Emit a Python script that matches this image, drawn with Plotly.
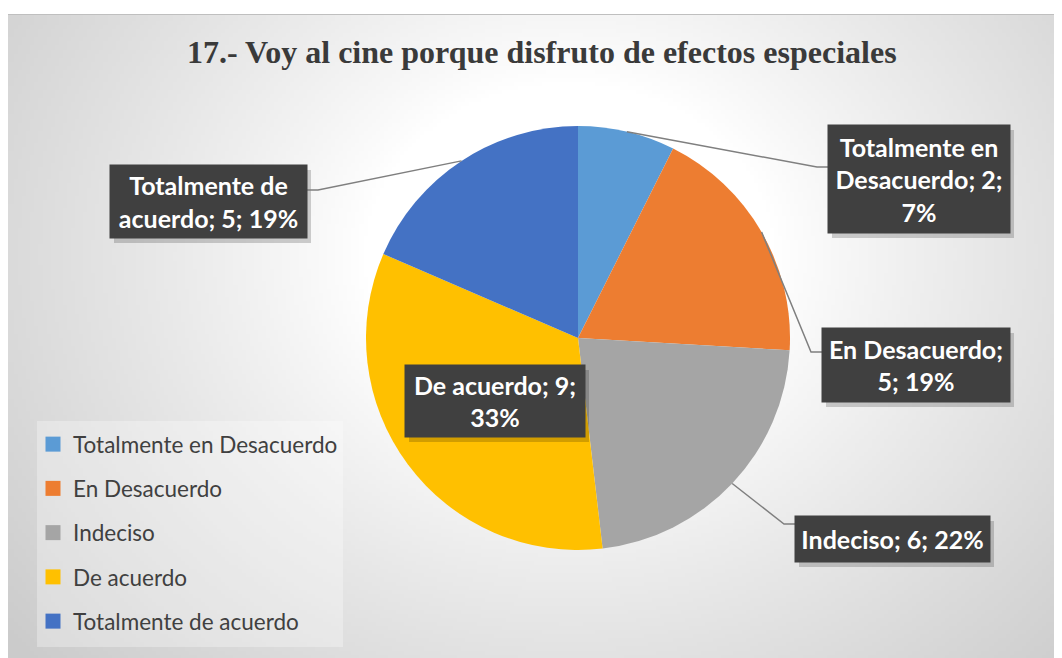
import base64, struct, zlib, textwrap, math
import numpy as np
import plotly.graph_objects as go

# ---------------- data ----------------
categories = ["Totalmente en Desacuerdo", "En Desacuerdo", "Indeciso", "De acuerdo", "Totalmente de acuerdo"]
values = [2, 5, 6, 9, 5]
colors = ["#5B9BD5", "#ED7D31", "#A5A5A5", "#FFC000", "#4472C4"]
title_text = "17.- Voy al cine porque disfruto de efectos especiales"

# ---------------- layout constants (page pixels) ----------------
W, H = 1062, 658
OFF = 8  # default page margin of the html body
CX, CY, R = 578, 338, 212
# label boxes: centre x, centre y, width, height, leader y, side
label_boxes = [
    (919, 179, 182, 108, 167, "right"),
    (916, 365, 188, 74, 352, "right"),
    (892.5, 539, 195, 46, 524, "right"),
    (495, 401, 180, 72, None, "inside"),
    (208.5, 201.5, 197, 73, 190, "left"),
]

def px(x):
    return (x - OFF) / W

def py(y):
    return 1 - (y - OFF) / H

# ---------------- background gradient as PNG ----------------
gw, gh = 264, 162
xs = np.linspace(8, W, gw)
ys = np.linspace(15, H, gh)
XX, YY = np.meshgrid(xs, ys)
d = np.sqrt(((XX - 560) / 640) ** 2 + ((YY - 250) / 540) ** 2)
t = np.clip((d - 0.32) / 0.8, 0, 1)
img = (255 - 52 * t ** 0.9).astype(np.uint8)

def make_png(a):
    h, w = a.shape
    raw = b"".join(b"\x00" + a[i].tobytes() for i in range(h))
    def chunk(tag, data):
        c = struct.pack(">I", len(data)) + tag + data
        return c + struct.pack(">I", zlib.crc32(tag + data) & 0xffffffff)
    return (b"\x89PNG\r\n\x1a\n" + chunk(b"IHDR", struct.pack(">IIBBBBB", w, h, 8, 0, 0, 0, 0))
            + chunk(b"IDAT", zlib.compress(raw, 9)) + chunk(b"IEND", b""))

bg_uri = "data:image/png;base64," + base64.b64encode(make_png(img)).decode()

fig = go.Figure()
fig.add_trace(go.Pie(
    labels=categories, values=values, sort=False, direction="clockwise", rotation=0,
    marker=dict(colors=colors, line=dict(width=0)),
    textinfo="none", showlegend=False, hoverinfo="label+value+percent",
    domain=dict(x=[px(CX - R), px(CX + R)], y=[py(CY + R), py(CY - R)]),
))

# legend via placeholder traces so spacing can be controlled
for i, (cat, col) in enumerate(zip(categories, colors)):
    fig.add_trace(go.Scatter(x=[None], y=[None], mode="markers", name=cat,
                             marker=dict(symbol="square", size=15, color=col),
                             legendgroup=f"g{i}", showlegend=True, hoverinfo="skip"))

shapes = []
annotations = []
total = sum(values)
cum = 0
for i, (cat, v) in enumerate(zip(categories, values)):
    mid = (cum + v / 2) / total * 2 * math.pi
    cum += v
    pct = round(v / total * 100)
    txt = "<br>".join(textwrap.wrap(f"{cat}; {v}; {pct}%", 16))
    bx, by, bw, bh, ly, side = label_boxes[i]
    # shadow
    shapes.append(dict(type="rect", xref="paper", yref="paper",
                       x0=px(bx - bw / 2 + 4), x1=px(bx + bw / 2 + 4),
                       y0=py(by + bh / 2 + 5), y1=py(by - bh / 2 + 5),
                       fillcolor="rgba(0,0,0,0.18)", line=dict(width=0), layer="above"))
    annotations.append(dict(x=px(bx), y=py(by), xref="paper", yref="paper", text=f"<b>{txt}</b>",
                            showarrow=False, xanchor="center", yanchor="middle",
                            width=bw, height=bh, borderpad=0, bgcolor="#404040",
                            font=dict(family="Lato, Carlito, sans-serif", size=25, color="white"),
                            align="center", valign="middle"))
    if ly is not None:
        sx = CX + R * math.sin(mid)
        sy = CY - R * math.cos(mid)
        if side == "right":
            ex = bx - bw / 2
            elx = ex - 11
        else:
            ex = bx + bw / 2
            elx = ex + 11
        path = f"M {px(sx)},{py(sy)} L {px(elx)},{py(ly)} L {px(ex)},{py(ly)}"
        shapes.append(dict(type="path", xref="paper", yref="paper", path=path,
                           line=dict(color="#7F7F7F", width=1.5), layer="above"))

# legend background
shapes.insert(0, dict(type="rect", xref="paper", yref="paper", x0=px(37), x1=px(343), y0=py(647), y1=py(421),
                      fillcolor="rgba(255,255,255,0.3)", line=dict(width=0), layer="below"))
# chart border
shapes.insert(0, dict(type="rect", xref="paper", yref="paper", x0=px(7.5), x1=1.01, y0=-0.01, y1=py(14.5),
                      fillcolor="rgba(0,0,0,0)", line=dict(color="#BFBFBF", width=1), layer="below"))

annotations.append(dict(x=px(541.5), y=py(52), xref="paper", yref="paper",
                        text=f"<b>{title_text}</b>", showarrow=False, xanchor="center", yanchor="middle",
                        font=dict(family="Liberation Serif, Times New Roman, serif", size=32, color="#3A3A3A")))

fig.update_layout(
    width=W, height=H, margin=dict(l=0, r=0, t=0, b=0),
    paper_bgcolor="white", plot_bgcolor="rgba(0,0,0,0)",
    xaxis=dict(visible=False), yaxis=dict(visible=False),
    images=[dict(source=bg_uri, xref="paper", yref="paper", x=px(8), y=py(15),
                 sizex=1.01 - px(8), sizey=py(15) + 0.01, xanchor="left", yanchor="top",
                 sizing="stretch", layer="below")],
    shapes=shapes, annotations=annotations,
    legend=dict(x=px(33), y=py(423), xanchor="left", yanchor="top", bgcolor="rgba(0,0,0,0)",
                tracegroupgap=12, font=dict(family="Lato, Carlito, sans-serif", size=22.5, color="#404040"),
                itemclick=False, itemdoubleclick=False),
    showlegend=True,
)

fig.write_html("out.html")
